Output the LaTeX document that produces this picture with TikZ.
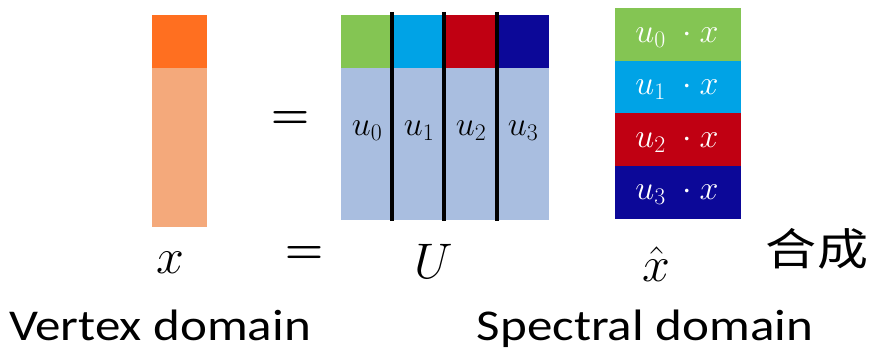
\RequirePackage{fix-cm}
\documentclass[tikz,border=0pt]{standalone}
\usepackage{fontspec}
\setmainfont{Carlito}
\newfontfamily\cjk{Noto Sans CJK SC}
\usepackage{xcolor}
\usetikzlibrary{positioning}
\definecolor{sigtop}{HTML}{FF6F20}
\definecolor{sigbody}{HTML}{F4A97B}
\definecolor{ugreen}{HTML}{84C553}
\definecolor{ucyan}{HTML}{00A3E6}
\definecolor{ured}{HTML}{C00012}
\definecolor{unavy}{HTML}{0C0898}
\definecolor{ubody}{HTML}{A9BEE0}
\newcommand{\wide}[1]{\scalebox{1.16}[1]{#1}}

\begin{document}
\begin{tikzpicture}[
        x=1pt, y=-1pt,
        col/.style={line width=4pt, black},
        bigmath/.style={font=\fontsize{50}{56}\selectfont},
        ulabel/.style={font=\fontsize{34}{38}\selectfont},
        dotlabel/.style={font=\fontsize{34}{38}\selectfont, text=white},
        domaintext/.style={font=\fontsize{44}{50}\selectfont, anchor=base},
    ]
        \useasboundingbox (0,0) rectangle (870,353);

        % signal x
        \fill[sigtop] (152,15) rectangle (207,68);
        \fill[sigbody] (152,68) rectangle (207,227);
        \node[font=\fontsize{44}{48}\selectfont\boldmath] (eqtop) at (290,120) {$=$};

        % basis U
        \fill[ubody] (341,68) rectangle (549,220);
        \fill[ugreen] (341,15) rectangle (392,68);
        \fill[ucyan] (392,15) rectangle (444,68);
        \fill[ured] (444,15) rectangle (497,68);
        \fill[unavy] (497,15) rectangle (549,68);
        \foreach \xx in {392,444,497}
            \draw[col] (\xx,12) -- (\xx,221);
        \node[ulabel] (u0) at (367,131) {$u_0$};
        \node[ulabel] (u1) at (419,131) {$u_1$};
        \node[ulabel] (u2) at (471,131) {$u_2$};
        \node[ulabel] (u3) at (523,131) {$u_3$};

        % spectrum x hat
        \fill[ugreen] (615,8) rectangle (741,61);
        \fill[ucyan] (615,61) rectangle (741,113);
        \fill[ured] (615,113) rectangle (741,166);
        \fill[unavy] (615,166) rectangle (741,219);
        \node[dotlabel] (c0) at (677,37) {$u_0\;\cdot x$};
        \node[dotlabel] (c1) at (677,89) {$u_1\;\cdot x$};
        \node[dotlabel] (c2) at (677,142) {$u_2\;\cdot x$};
        \node[dotlabel] (c3) at (677,194) {$u_3\;\cdot x$};

        % bottom row
        \node[bigmath] (xvec) at (170,263) {$x$};
        \node[font=\fontsize{44}{48}\selectfont\boldmath] (eqbot) at (304,255) {$=$};
        \node[bigmath] (umat) at (434,261) {$U$};
        \node[bigmath] (xhat) at (656,264) {$\hat{x}$};
        \node[font=\cjk\fontsize{44}{48}\selectfont] (synth) at (817,249) {\wide{合成}};

        \node[domaintext] (vertex) at (160,340) {\wide{Vertex domain}};
        \node[domaintext] (spectral) at (645,340) {\wide{Spectral domain}};
    \end{tikzpicture}
\end{document}
